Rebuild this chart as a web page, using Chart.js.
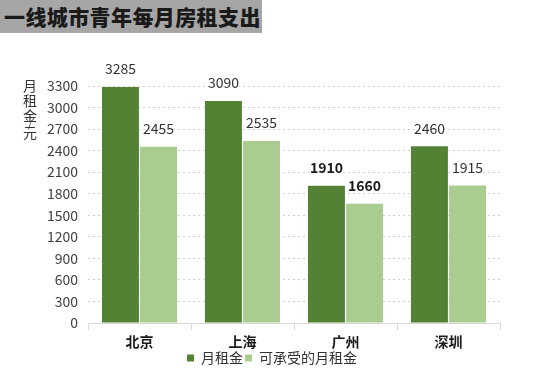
<!DOCTYPE html>
<html>
<head>
<meta charset="utf-8">
<script src="https://cdn.jsdelivr.net/npm/chart.js@4/dist/chart.umd.min.js"></script>
<style>
  body { margin: 0; background: #fff; }
  #wrap { position: relative; width: 546px; height: 380px; }
  #title { position: absolute; left: 0; top: 0; width: 262px; height: 33px; background: #a6a6a6;
    font-family: "Noto Sans CJK SC", sans-serif; font-weight: 900; font-size: 21px; line-height: 33px;
    color: #1a1a1a; padding-left: 4px; box-sizing: border-box; letter-spacing: 0.4px; white-space: nowrap; overflow: hidden; }
</style>
</head>
<body>
<div id="wrap">
  <canvas id="myChart" width="546" height="380"></canvas>
  <div id="title">一线城市青年每月房租支出</div>
</div>
<script>
var cities = ['北京', '上海', '广州', '深圳']
var rent = [3285, 3090, 1910, 2460]
var affordable = [2455, 2535, 1660, 1915]
var boldCity = '广州'

var fontFam = '"Noto Sans CJK SC", "Open Sans", sans-serif'

// value labels above the bars + upright axis title
const valueLabels = {
  id: 'valueLabels',
  afterLayout(chart) {
    // legend sits a bit right of centre in the original
    chart.legend.left += 22
    chart.legend.right += 22
  },
  afterDatasetsDraw(chart) {
    const ctx = chart.ctx
    ctx.save()
    ctx.textAlign = 'center'
    ctx.textBaseline = 'bottom'
    chart.data.datasets.forEach((ds, i) => {
      chart.getDatasetMeta(i).data.forEach((bar, j) => {
        const bold = chart.data.labels[j] === boldCity
        ctx.font = (bold ? 'bold ' : '') + '14px ' + fontFam
        ctx.fillStyle = bold ? '#1a1a1a' : '#333'
        ctx.fillText(ds.data[j], bar.x, bar.y - 11)
      })
    })
    ctx.font = '14px ' + fontFam
    ctx.fillStyle = '#333'
    ctx.textBaseline = 'middle'
    ctx.fillText('月', 30, 86)
    ctx.fillText('租', 30, 101)
    ctx.fillText('金', 30, 116)
    ctx.fillText('元', 30, 133)
    ctx.font = '10px ' + fontFam
    ctx.fillText('/', 30, 124)
    ctx.restore()
  }
}

const data = {
  labels: cities,
  datasets: [{
    label: '月租金',
    backgroundColor: '#548235',
    data: rent,
  }, {
    label: '可承受的月租金',
    backgroundColor: '#a9cc8f',
    data: affordable,
  }]
}

const config = {
  type: 'bar',
  data: data,
  plugins: [valueLabels],
  options: {
    responsive: false,
    animation: false,
    layout: { padding: { top: 86, right: 46, left: 0, bottom: 5 } },
    datasets: { bar: { categoryPercentage: 0.74, barPercentage: 0.97 } },
    plugins: {
      tooltip: { enabled: false },
      legend: {
        position: 'bottom',
        labels: {
          boxWidth: 7, boxHeight: 7, padding: 2,
          color: '#333',
          font: { family: fontFam, size: 14 }
        }
      }
    },
    scales: {
      x: {
        afterFit(s) { s.height = 26 },
        grid: { drawOnChartArea: false, tickLength: 7, color: '#d9d9d9' },
        border: { color: '#d9d9d9' },
        ticks: { color: '#1a1a1a', padding: 3, font: { family: fontFam, size: 14, weight: 'bold' } }
      },
      y: {
        min: 0, max: 3300,
        afterFit(s) { s.width = 88 },
        border: { display: false, dash: [2, 3] },
        grid: { color: '#cfcfcf', drawTicks: false },
        ticks: {
          stepSize: 300, padding: 10, color: '#404040',
          font: { family: fontFam, size: 14 },
          callback: v => String(v)
        }
      }
    }
  }
}

const myChart = new Chart(document.getElementById('myChart'), config)
</script>
</body>
</html>
